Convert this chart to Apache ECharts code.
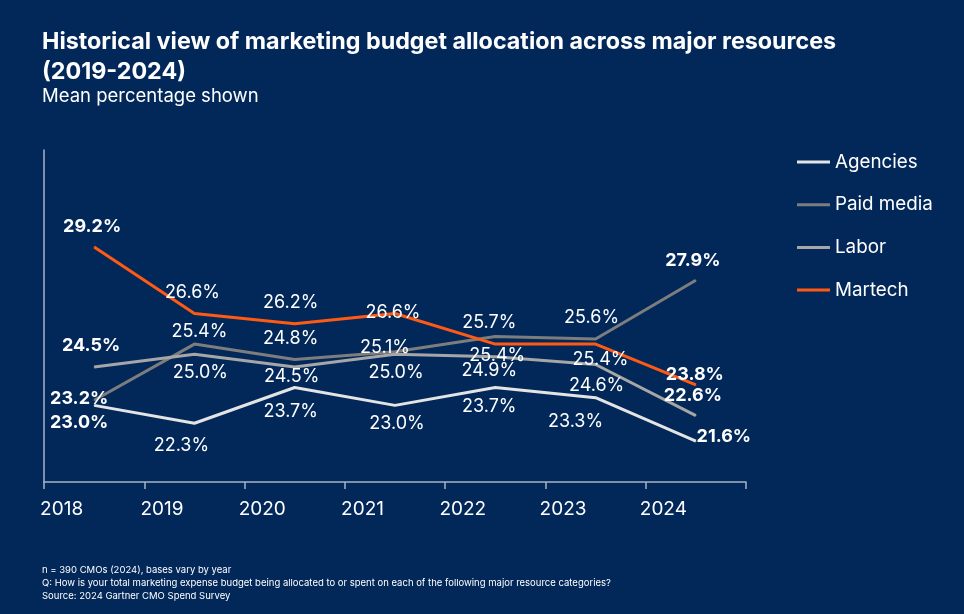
<!DOCTYPE html>
<html>
<head>
<meta charset="utf-8">
<script src="https://cdn.jsdelivr.net/npm/echarts@6/dist/echarts.min.js"></script>
<style>
  html, body { margin: 0; padding: 0; background: #02285a; }
  #chart { width: 964px; height: 614px; }
</style>
</head>
<body>
<div id="chart"></div>
<script>
// 数据
const years = ['2018', '2019', '2020', '2021', '2022', '2023', '2024'];
const agencies = [23.0, 22.3, 23.7, 23.0, 23.7, 23.3, 21.6];
const paidMedia = [23.2, 25.4, 24.8, 25.1, 25.7, 25.6, 27.9];
const labor = [24.5, 25.0, 24.5, 25.0, 24.9, 24.6, 22.6];
const martech = [29.2, 26.6, 26.2, 26.6, 25.4, 25.4, 23.8];

// 标签偏移 (相对数据点)
const agenciesOffsets = [[-15, 17], [-13, 22], [-4, 24], [2, 18], [-6, 19], [-20, 24], [28, -5]];
const paidOffsets = [[-15, -2], [5, -12], [-4, -21], [-10, -4], [-6, -14], [-4, -21], [-3, -20]];
const laborOffsets = [[-3, -21], [6, 18], [-3, 10], [1, 18], [-6, 14], [1, 21], [-3, -20]];
const martechOffsets = [[-2, -20], [-2, -21], [-4, -21], [-2, -1], [2, 12], [5, 16], [-1, -10]];

const font = 'Inter, "Noto Sans", sans-serif';

const buildData = (values, offsets) => values.map((v, i) => {
  const edge = i === 0 || i === values.length - 1;
  return {
    value: v,
    label: { offset: offsets[i], fontWeight: edge ? 'bold' : 'normal' }
  };
});

const makeSeries = (name, values, offsets, color) => ({
  name,
  type: 'line',
  data: buildData(values, offsets),
  symbol: 'circle',
  symbolSize: 1,
  lineStyle: { color, width: 3 },
  itemStyle: { color },
  label: {
    show: true,
    position: 'inside',
    color: '#ffffff',
    fontFamily: font,
    fontSize: 18,
    formatter: p => p.value.toFixed(1) + '%'
  },
  emphasis: { disabled: true },
  z: 3
});

const chart = echarts.init(document.getElementById('chart'));
chart.setOption({
  backgroundColor: '#02285a',
  animation: false,
  title: [
    {
      text: 'Historical view of marketing budget allocation across major resources\n(2019-2024)',
      left: 37,
      top: 22,
      textStyle: { color: '#ffffff', fontFamily: font, fontSize: 23.3, fontWeight: 'bold', lineHeight: 30 }
    },
    {
      text: 'Mean percentage shown',
      left: 37,
      top: 80,
      textStyle: { color: '#ffffff', fontFamily: font, fontSize: 18.5, fontWeight: 'normal', lineHeight: 22 }
    },
    {
      text: 'n = 390 CMOs (2024), bases vary by year\nQ: How is your total marketing expense budget being allocated to or spent on each of the following major resource categories?\nSource: 2024 Gartner CMO Spend Survey',
      left: 37,
      top: 559,
      textStyle: { color: '#ffffff', fontFamily: font, fontSize: 9.5, fontWeight: 'normal', lineHeight: 13 }
    }
  ],
  legend: {
    orient: 'vertical',
    left: 792,
    top: 147,
    itemWidth: 33,
    itemHeight: 3,
    itemGap: 22.7,
    icon: 'rect',
    textStyle: { color: '#ffffff', fontFamily: font, fontSize: 18.8, lineHeight: 20 },
    data: ['Agencies', 'Paid media', 'Labor', 'Martech']
  },
  grid: { left: 44, right: 218, top: 150, bottom: 132 },
  xAxis: {
    type: 'category',
    data: years,
    boundaryGap: true,
    axisLine: { lineStyle: { color: '#a7b2c4', width: 1.5 } },
    axisTick: { show: true, interval: 0, length: 7, lineStyle: { color: '#a7b2c4', width: 1.5 } },
    axisLabel: {
      interval: 0,
      color: '#ffffff',
      fontFamily: font,
      fontSize: 19,
      margin: 18,
      padding: [0, 65, 0, 0]
    }
  },
  yAxis: {
    type: 'value',
    min: 20,
    max: 33,
    axisLine: { show: true, lineStyle: { color: '#a7b2c4', width: 1.5 } },
    axisTick: { show: false },
    axisLabel: { show: false },
    splitLine: { show: false }
  },
  series: [
    makeSeries('Agencies', agencies, agenciesOffsets, '#e4e4e4'),
    makeSeries('Paid media', paidMedia, paidOffsets, '#7d7d7d'),
    makeSeries('Labor', labor, laborOffsets, '#a6a6a6'),
    makeSeries('Martech', martech, martechOffsets, '#ff5a14')
  ]
});
</script>
</body>
</html>
